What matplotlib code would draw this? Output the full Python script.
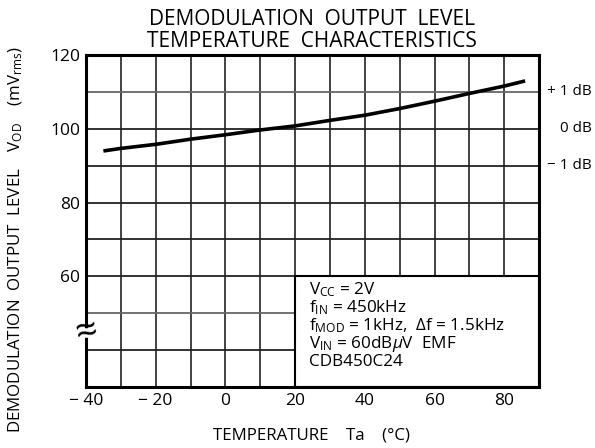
import matplotlib
matplotlib.use("Agg")
import matplotlib.pyplot as plt
from matplotlib.patches import Rectangle
from matplotlib.transforms import blended_transform_factory

plt.rcParams['font.family'] = ['Open Sans', 'DejaVu Sans']
plt.rcParams['mathtext.fontset'] = 'custom'
plt.rcParams['mathtext.rm'] = 'Open Sans'
plt.rcParams['mathtext.it'] = 'Open Sans:italic'

# donnees
temp = [-35, -30, -20, -10, 0, 10, 20, 30, 40, 50, 60, 70, 80, 86]
vod = [94.0, 94.7, 95.8, 97.2, 98.4, 99.7, 100.8, 102.3, 103.7, 105.5, 107.5, 109.6, 111.6, 113.0]

xticks = [-40, -20, 0, 20, 40, 60, 80]
xlabels = ["\u2212 40", "\u2212 20", "0", "20", "40", "60", "80"]
yticks = [60, 80, 100, 120]
db_pos = [110, 100, 90]
db_labels = ["+ 1 dB", "0 dB", "\u2212 1 dB"]

fig = plt.figure(figsize=(5.95, 4.48), dpi=100)
ax = fig.add_axes([0.1445, 0.1362, 0.7615, 0.7408])
ax.set_xlim(-40, 90)
ax.set_ylim(30, 120)

# grille
for x in range(-30, 90, 10):
    ax.axvline(x, color='#222222', lw=1.2, zorder=1)
for y in range(40, 120, 10):
    c = '#666666' if y in (110, 50) else '#222222'
    ax.axhline(y, color=c, lw=1.3, zorder=1)

# cadre des conditions
ax.add_patch(Rectangle((20, 30), 70, 30, facecolor='white', edgecolor='black', lw=1.5, zorder=2))
cond = [r"V$_{\mathregular{CC}}$ = 2V",
        r"f$_{\mathregular{IN}}$ = 450kHz",
        r"f$_{\mathregular{MOD}}$ = 1kHz,  $\mathit{\Delta}$f = 1.5kHz",
        r"V$_{\mathregular{IN}}$ = 60dB$\mathit{\mu}$V  EMF",
        "CDB450C24"]
for i, s in enumerate(cond):
    ax.text(24, 56.3 - i * 4.9, s, fontsize=12.3, va='center', ha='left', zorder=3)

ax.plot(temp, vod, color='black', lw=2.6, solid_capstyle='butt', zorder=4)

ax.set_xticks(xticks)
ax.set_xticklabels(xlabels, fontsize=12.5)
ax.set_yticks(yticks)
ax.set_yticklabels([str(v) for v in yticks], fontsize=12.5)
ax.tick_params(length=0, pad=4)
for sp in ax.spines.values():
    sp.set_linewidth(2.2)
    sp.set_zorder(5)

# symbole de coupure sur l'axe
ax.plot([-40, -40], [44.0, 45.1], color='white', lw=4, zorder=6, clip_on=False)
ax.text(-40, 44.5, "\u2248", fontsize=28, ha='center', va='center', zorder=7, rotation=12)

tr = blended_transform_factory(fig.transFigure, ax.transData)
for y, s in zip(db_pos, db_labels):
    ax.text(0.995, y, s, transform=tr, ha='right', va='center', fontsize=11)

fig.text(0.525, 0.957, "DEMODULATION  OUTPUT  LEVEL", ha='center', va='center', fontsize=15)
fig.text(0.525, 0.907, "TEMPERATURE  CHARACTERISTICS", ha='center', va='center', fontsize=15)
fig.text(0.026, 0.464, r"DEMODULATION  OUTPUT  LEVEL    V$_{\mathregular{OD}}$    (mV$_{\mathregular{rms}}$)",
         rotation=90, ha='center', va='center', fontsize=12.2)
fig.text(0.524, 0.027, "TEMPERATURE    Ta    (\u00b0C)", ha='center', va='center', fontsize=12.2)

fig.savefig("out.png", dpi=100)
